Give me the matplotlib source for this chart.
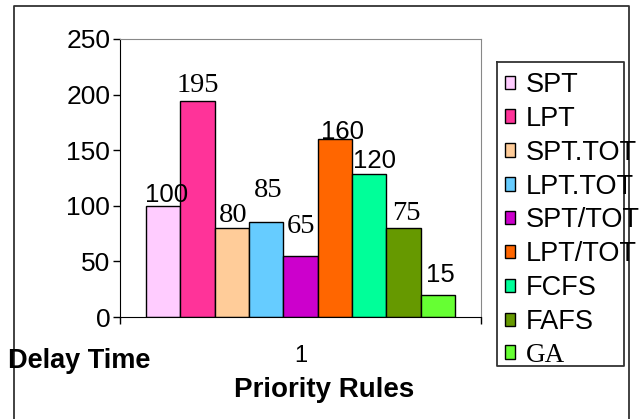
import matplotlib
matplotlib.use("Agg")
import matplotlib.pyplot as plt
from matplotlib.patches import Patch
from matplotlib.lines import Line2D

# data
rules = ['SPT', 'LPT', 'SPT.TOT', 'LPT.TOT', 'SPT/TOT', 'LPT/TOT', 'FCFS', 'FAFS', 'GA']
heights = [100, 194, 80, 85, 55, 160, 129, 80, 20]
labels = ['100', '195', '80', '85', '65', '160', '120', '75', '15']
colors = ['#FFCCFF', '#FF3399', '#FFCC99', '#66CCFF', '#CC00CC',
          '#FF6600', '#00FF99', '#669900', '#66FF33']

# label styling (mixed fonts like the original)
label_fonts = ['Liberation Sans', 'Liberation Serif', 'Liberation Serif', 'Liberation Serif',
               'Liberation Serif', 'Liberation Sans', 'Liberation Sans', 'Liberation Serif',
               'Liberation Sans']
label_sizes = [18.5, 20.5, 20.5, 20.5, 20.5, 18.5, 18.5, 20.5, 18.5]
label_dy = [4, 9, 6.5, 25, 23, 0, 6, 8, 13]      # px above bar top
label_dx = [3.5, 0, 1, 2, 0, 8, 5.5, 3, 3]       # px right of bar centre

W, H = 644, 419
fig = plt.figure(figsize=(W / 100, H / 100), dpi=100)
ax = fig.add_axes([120 / W, 1 - 317 / H, 361 / W, 278 / H])

bw = 0.095
n = len(rules)
for i in range(n):
    x = 1 + (i - (n - 1) / 2) * bw
    ax.bar(x, heights[i], width=bw, color=colors[i], edgecolor='black', linewidth=1)
    ax.annotate(labels[i], (x, heights[i]), xytext=(label_dx[i] * 0.72, label_dy[i] * 0.72),
                textcoords='offset points', ha='center', va='baseline',
                fontsize=label_sizes[i], family=label_fonts[i])

ax.set_xlim(0.5, 1.5)
ax.set_ylim(0, 250)
ax.set_yticks(range(0, 251, 50))
ax.set_xticks([1])
ax.set_xticklabels(['1'], fontsize=17, family='Liberation Sans')
ax.set_xticks([0.5, 1.5], minor=True)
ax.tick_params(axis='x', which='major', length=0, pad=20)
ax.tick_params(axis='x', which='minor', length=5, direction='out', width=1)
ax.tick_params(axis='y', length=5, direction='out', width=1, pad=2, labelsize=19)
for t in ax.get_yticklabels():
    t.set_family('Liberation Sans')
for s in ['top', 'right']:
    ax.spines[s].set_color('#888888')
for s in ['left', 'bottom']:
    ax.spines[s].set_color('black')

fig.text(8 / W, 1 - 368 / H, 'Delay Time', fontsize=19.5, fontweight='bold',
         family='Liberation Sans', va='baseline', ha='left')
fig.text(324 / W, 1 - 397 / H, 'Priority Rules', fontsize=20, fontweight='bold',
         family='Liberation Sans', va='baseline', ha='center')

# chart border
border = Line2D([14 / W, 14 / W, 629 / W, 629 / W], [0, 1 - 6 / H, 1 - 6 / H, 0],
                transform=fig.transFigure, color='#333333', linewidth=1.3)
fig.add_artist(border)

# legend box drawn by hand so text can overflow it
box = Line2D([497 / W, 624 / W, 624 / W, 497 / W, 497 / W],
             [1 - 62 / H, 1 - 62 / H, 1 - 366 / H, 1 - 366 / H, 1 - 62 / H],
             transform=fig.transFigure, color='#333333', linewidth=1.3)
fig.add_artist(box)

handles = [Patch(facecolor=c, edgecolor='black', linewidth=1) for c in colors]
leg = fig.legend(handles, rules, loc='upper left', bbox_to_anchor=(505 / W, 1 - 72 / H),
                 frameon=False, fontsize=19.5, handlelength=0.38, handleheight=0.38,
                 handletextpad=0.4, labelspacing=0.29, borderpad=0, borderaxespad=0)
for t in leg.get_texts():
    t.set_family('Liberation Serif' if t.get_text() == 'GA' else 'Liberation Sans')

fig.savefig('out.png', dpi=100)
